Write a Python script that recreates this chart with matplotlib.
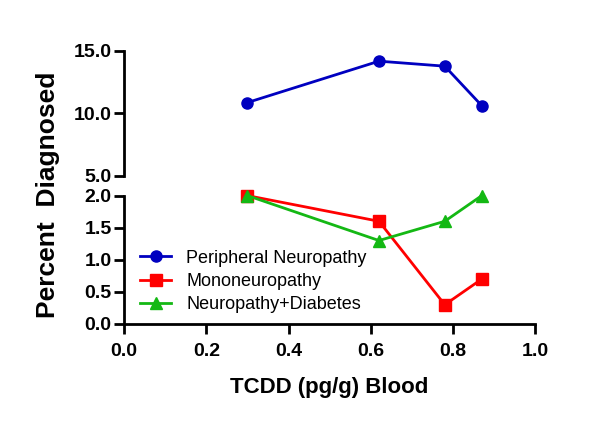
import matplotlib.pyplot as plt

plt.rcParams['font.family'] = ['Liberation Sans', 'DejaVu Sans']

tcdd = [0.30, 0.62, 0.78, 0.87]
peripheral = [10.85, 14.15, 13.75, 10.6]
mono = [2.0, 1.6, 0.3, 0.7]
neuro_diab = [2.0, 1.3, 1.6, 2.0]

blue = '#0000C0'
red = '#FF0000'
green = '#14B814'

fig = plt.figure(figsize=(6.11, 4.28), dpi=100)
ax_top = fig.add_axes([0.203, 0.589, 0.673, 0.293])
ax_bot = fig.add_axes([0.203, 0.243, 0.673, 0.300])

kw = dict(linewidth=2, markersize=8)
ax_top.plot(tcdd, peripheral, color=blue, marker='o', label='Peripheral Neuropathy', **kw)
ax_bot.plot([], [], color=blue, marker='o', label='Peripheral Neuropathy', **kw)
ax_bot.plot(tcdd, mono, color=red, marker='s', label='Mononeuropathy', **kw)
ax_bot.plot(tcdd, neuro_diab, color=green, marker='^', label='Neuropathy+Diabetes', **kw)

for ax in (ax_top, ax_bot):
    ax.set_xlim(0, 1.0)
    for s in ['top', 'right']:
        ax.spines[s].set_visible(False)
    ax.spines['left'].set_linewidth(2)
    ax.spines['bottom'].set_linewidth(2)
    ax.tick_params(width=2, length=7, labelsize=14, pad=2)

ax_top.set_ylim(5, 15)
ax_top.set_yticks([5, 10, 15])
ax_top.set_yticklabels(['5.0', '10.0', '15.0'], fontweight='bold')
ax_top.spines['bottom'].set_visible(False)
ax_top.tick_params(axis='x', bottom=False, labelbottom=False)

ax_bot.set_ylim(0, 2.0)
ax_bot.set_yticks([0, 0.5, 1.0, 1.5, 2.0])
ax_bot.set_yticklabels(['0.0', '0.5', '1.0', '1.5', '2.0'], fontweight='bold')
ax_bot.set_xticks([0, 0.2, 0.4, 0.6, 0.8, 1.0])
ax_bot.set_xticklabels(['0.0', '0.2', '0.4', '0.6', '0.8', '1.0'], fontweight='bold')
ax_bot.tick_params(axis='x', pad=7)
ax_bot.set_xlabel('TCDD (pg/g) Blood', fontsize=16, fontweight='bold', labelpad=12)

for ln in ax_top.lines + ax_bot.lines:
    ln.set_clip_on(False)

ax_bot.legend(loc='upper left', bbox_to_anchor=(0.022, 0.635), frameon=False,
              fontsize=13, handlelength=1.7, handletextpad=0.85, labelspacing=0.35,
              borderaxespad=0)

fig.text(0.078, 0.545, 'Percent  Diagnosed', rotation=90, fontsize=19,
         fontweight='bold', ha='center', va='center')

fig.savefig('out.png', dpi=100)
